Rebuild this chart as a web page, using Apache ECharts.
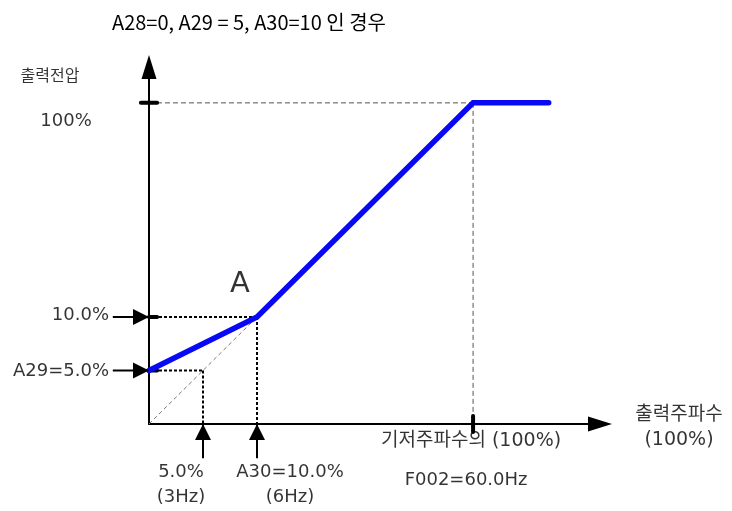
<!DOCTYPE html>
<html>
<head>
<meta charset="utf-8">
<script src="https://cdn.jsdelivr.net/npm/echarts@6/dist/echarts.min.js"></script>
<style>
html,body{margin:0;padding:0;background:#fff;}
#main{width:732px;height:511px;}
</style>
</head>
<body>
<div id="main"></div>
<script>
// diagram is schematic (not to scale): 1 unit ~ 5%
var titleText = 'A28=0, A29 = 5, A30=10 인 경우';
var yName = '출력전압';
var xName = '출력주파수\n(100%)';
var xTicks = [1, 2, 6];
var yTicks = [1, 2, 6];
var xTickLabels = ['5.0%\n(3Hz)', 'A30=10.0%\n(6Hz)', '기저주파수의 (100%)'];
var yTickLabels = ['A29=5.0%', '10.0%', '100%'];
var baseFreqLabel = 'F002=60.0Hz';
var kneeLabel = 'A';
var vfX = [0, 2, 6, 7.4];
var vfY = [1, 2, 6, 6];

var X_MAX = 8.35, Y_MAX = 6.67;
var SHAFT_X = -0.67, SHAFT_Y = -0.64, TICK = 0.15;
var FONT = "'DejaVu Sans', 'Noto Sans CJK KR', sans-serif";

var myChart = echarts.init(document.getElementById('main'));

// straight segments [x1, y1, x2, y2] drawn through the axes
function segs(list, style){
	return {
		type: 'custom', data: list, clip: false, silent: true, animation: false,
		renderItem: function(params, api){
			var a = api.coord([api.value(0), api.value(1)]);
			var b = api.coord([api.value(2), api.value(3)]);
			return {type: 'line', shape: {x1: a[0], y1: a[1], x2: b[0], y2: b[1]}, style: style};
		}
	};
}
// arrow heads [x, y, dirX, dirY], tip sits on the point
function heads(list){
	return {
		type: 'custom', data: list, clip: false, silent: true, animation: false, z: 5,
		renderItem: function(params, api){
			var p = api.coord([api.value(0), api.value(1)]);
			var dx = api.value(2), dy = api.value(3), L = 16, W = 8;
			return {
				type: 'polygon',
				shape: {points: [
					[p[0], p[1]],
					[p[0] - dx * L - dy * W, p[1] - dy * L + dx * W],
					[p[0] - dx * L + dy * W, p[1] - dy * L - dx * W]
				]},
				style: {fill: '#000'}
			};
		}
	};
}
function note(pt, text, off, align, size){
	return {
		value: pt,
		label: {
			show: true, position: 'inside', formatter: text, offset: off,
			align: align || 'center', verticalAlign: 'middle',
			fontSize: size || 18, lineHeight: 25, color: '#000', fontFamily: FONT
		}
	};
}

var series = [];

// 100% guides
series.push(segs([
	[0, yTicks[2], xTicks[2], yTicks[2]],
	[xTicks[2], yTicks[2], xTicks[2], 0]
], {stroke: '#555', lineWidth: 1, lineDash: [5, 3]}));
// reference diagonal
series.push(segs([[0, 0, xTicks[1], yTicks[1]]], {stroke: '#777', lineWidth: 1, lineDash: [4, 3]}));
// dotted projections of 5% and 10%, arrows, ticks
var dots = [], shafts = [], ticks = [], arrows = [];
for (var i = 0; i < 2; i++) {
	dots.push([0, yTicks[i], xTicks[i], yTicks[i]]);
	dots.push([xTicks[i], yTicks[i], xTicks[i], 0]);
	shafts.push([SHAFT_X, yTicks[i], 0, yTicks[i]]);
	shafts.push([xTicks[i], SHAFT_Y, xTicks[i], 0]);
	ticks.push([0, yTicks[i], TICK, yTicks[i]]);
	arrows.push([0, yTicks[i], 1, 0]);
	arrows.push([xTicks[i], 0, 0, -1]);
}
ticks.push([-TICK, yTicks[2], TICK, yTicks[2]]);
ticks.push([xTicks[2], TICK, xTicks[2], -TICK]);
series.push(segs(dots, {stroke: '#000', lineWidth: 2, lineDash: [3, 2]}));
series.push(segs(shafts, {stroke: '#000', lineWidth: 2}));
series.push(segs(ticks, {stroke: '#000', lineWidth: 4, lineCap: 'round'}));
series.push(heads(arrows));

// V/F curve
series.push({
	type: 'line', data: vfX.map(function(x, k){ return [x, vfY[k]]; }),
	symbol: 'none', clip: false, animation: false, z: 4,
	lineStyle: {color: '#0808f4', width: 5.5, join: 'miter', cap: 'round'}
});

// text annotations
series.push({
	type: 'scatter', symbolSize: 0, clip: false, silent: true, animation: false,
	data: [
		note([0, yTicks[0]], yTickLabels[0], [-40, 1], 'right'),
		note([0, yTicks[1]], yTickLabels[1], [-40, -2], 'right'),
		note([0, yTicks[2]], yTickLabels[2], [-83, 18]),
		note([xTicks[0], 0], xTickLabels[0], [-22, 61]),
		note([xTicks[1], 0], xTickLabels[1], [33, 61]),
		note([xTicks[2], 0], xTickLabels[2], [-2, 17], 'center', 19),
		note([xTicks[2], 0], baseFreqLabel, [-7, 56]),
		note([xTicks[1], yTicks[1]], kneeLabel, [-17, -32], 'center', 29),
		note([X_MAX, 0], xName, [79, 4], 'center', 19),
		note([0, Y_MAX], yName, [-99, 10], 'center', 16)
	]
});

var axisCommon = {
	type: 'value', min: 0,
	axisLine: {show: true, onZero: false, symbol: ['none', 'triangle'], symbolSize: [15, 24],
		lineStyle: {color: '#000', width: 2}},
	axisTick: {show: false}, axisLabel: {show: false}, splitLine: {show: false}
};

myChart.setOption({
	animation: false,
	title: {
		text: titleText, left: 107, top: 7,
		textStyle: {fontSize: 20, fontWeight: 'normal', color: '#000',
			fontFamily: "'Liberation Sans Narrow', 'Noto Sans CJK KR', sans-serif"}
	},
	grid: {left: 149, top: 67, right: 132, bottom: 87},
	xAxis: Object.assign({}, axisCommon, {max: X_MAX}),
	yAxis: Object.assign({}, axisCommon, {max: Y_MAX}),
	series: series
});
</script>
</body>
</html>
